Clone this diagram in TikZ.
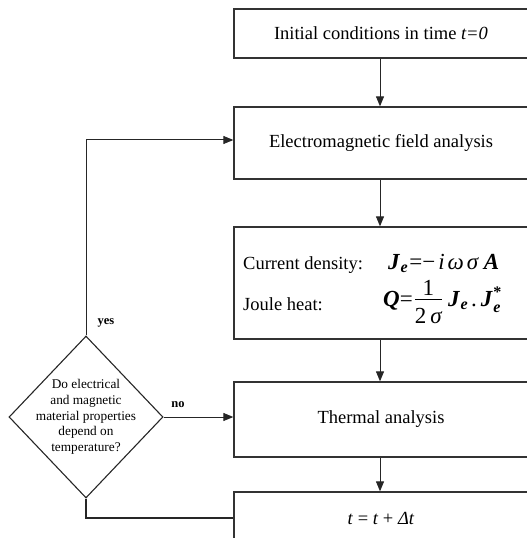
\documentclass[tikz,border=0pt]{standalone}
\usepackage{fontspec}
\setmainfont{Liberation Serif}
\usepackage{amsmath}
\usetikzlibrary{shapes.geometric,arrows.meta}
\newcommand{\bj}{{\bfseries\itshape J}}
\newcommand{\sube}{$_{\text{\bfseries\itshape e}}$}
\begin{document}
\begin{tikzpicture}[x=1bp,y=-1bp,
  box/.style={draw=black!80, line width=1.3bp, minimum width=294bp, inner sep=0pt,
    font=\fontsize{18.5bp}{22bp}\selectfont},
  txt/.style={inner sep=0pt, anchor=base west, font=\fontsize{18.5bp}{22bp}\selectfont},
  eqn/.style={inner sep=0pt, anchor=base west, font=\fontsize{23bp}{26bp}\selectfont},
  flow/.style={draw=black!85, line width=1bp, -{Triangle[length=10bp,width=8bp]}},
  plain/.style={draw=black!85, line width=1.1bp},
  decision/.style={draw=black!85, line width=1.1bp, diamond, minimum width=154bp,
    minimum height=162bp, inner sep=0pt},
  dtxt/.style={align=center, font=\fontsize{13.3bp}{15.7bp}\selectfont, inner sep=0pt},
  lbl/.style={font=\fontsize{12.5bp}{14bp}\selectfont\bfseries, inner sep=0pt}]
\useasboundingbox (0,0) rectangle (527,538);
\clip (0,0) rectangle (527,538);

\node[box, minimum height=49bp] (b1) at (381,33.5) {Initial conditions in time \textit{t=0}};
\node[box, minimum height=72bp] (b2) at (381,143) {Electromagnetic field analysis};
\node[box, minimum height=112bp] (b3) at (381,283) {};
\node[txt] (cd) at (243,269) {Current density:};
\node[txt] (jh) at (243,310) {Joule heat:};
\node[eqn] (eq1) at (388,269) {\bj\kern1bp\sube\kern1bp=−\kern3bp\textit{i}\kern3bp\textit{ω}\kern3bp\textit{σ}\kern5bp{\bfseries\itshape A}};
\node[eqn] (eq2) at (383,306) {{\bfseries\itshape Q}=\kern1bp$\genfrac{}{}{}{0}{\raisebox{-6bp}[\height][0pt]{1}}{\hbox{2\kern4bp\itshape σ}}$\kern5bp\bj\kern1bp\sube\kern3bp.\kern4bp\bj\kern1bp$^{\text{\bfseries *}}_{\text{\bfseries\itshape e}}$};
\node[box, minimum height=75bp] (b4) at (381,419.5) {Thermal analysis};
\node[box, minimum height=52bp] (b5) at (381,518) {\textit{t} = \textit{t} + \textit{Δt}};

\node[decision] (d) at (86,417) {};
\node[dtxt] (dt) at (d.center) {Do electrical\\and magnetic\\material properties\\depend on\\temperature?};

\node[lbl] (yes) at (106,323) {yes};
\node[lbl] (no) at (178,405) {no};

\draw[flow] (b1.south -| 380,0) -- (b2.north -| 380,0);
\draw[flow] (b2.south -| 380,0) -- (b3.north -| 380,0);
\draw[flow] (b3.south -| 380,0) -- (b4.north -| 380,0);
\draw[flow] (b4.south -| 380,0) -- (b5.north -| 380,0);
\draw[flow] (d.north) |- ([yshift=3bp]b2.west);
\draw[flow] (d.east) -- (d.east -| b4.west);
\draw[plain] (d.south) |- (b5.west);
\end{tikzpicture}
\end{document}
